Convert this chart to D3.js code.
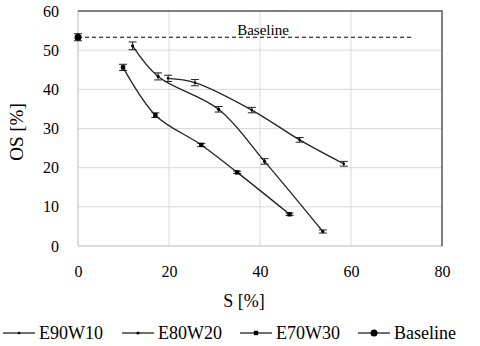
<!DOCTYPE html>
<html>
<head>
<meta charset="utf-8">
<script src="https://cdn.jsdelivr.net/npm/d3@7"></script>
<style>
  body { margin: 0; background: #fff; }
  svg text { font-family: "Liberation Serif", Tinos, "Times New Roman", Times, "DejaVu Serif", "Noto Serif", serif !important; fill: #000; }
</style>
</head>
<body>
<div class="svg-container"></div>
<script>
// data
var seriesNames = ['E90W10', 'E80W20', 'E70W30'];
var e90w10_s  = [19.8, 25.7, 38.2, 48.7, 58.4];
var e90w10_os = [42.8, 41.7, 34.7, 27.1, 21.0];
var e90w10_er = [0.8, 0.8, 0.7, 0.6, 0.6];
var e80w20_s  = [12.0, 17.6, 30.9, 41.0, 53.8];
var e80w20_os = [51.1, 43.3, 34.9, 21.6, 3.7];
var e80w20_er = [1.0, 0.9, 0.7, 0.7, 0.4];
var e70w30_s  = [9.9, 17.0, 27.1, 35.0, 46.5];
var e70w30_os = [45.6, 33.4, 25.8, 18.8, 8.1];
var e70w30_er = [0.8, 0.6, 0.4, 0.3, 0.3];
var baseline_s = 0, baseline_os = 53.3, baseline_er = 0.9;
var baselineEnd = 73.5;
var xTicks = [0, 20, 40, 60, 80];
var yTicks = [0, 10, 20, 30, 40, 50, 60];

var width = 480, height = 346;
var margin = {left: 78, right: 38, top: 11, bottom: 100};
var serif = '"Liberation Serif", Tinos, "Times New Roman", Times, "DejaVu Serif", serif';

var svg = d3.select('.svg-container').append('svg')
    .attr('width', width).attr('height', height)
    .attr('font-family', serif);

var x = d3.scaleLinear().domain([0, 80]).range([margin.left, width - margin.right]);
var y = d3.scaleLinear().domain([0, 60]).range([height - margin.bottom, margin.top]);

//grid
svg.append('g').selectAll('line').data(yTicks.slice(1, -1)).enter().append('line')
    .attr('x1', x(0)).attr('x2', x(80))
    .attr('y1', function(d){ return y(d); }).attr('y2', function(d){ return y(d); })
    .attr('stroke', '#d9d9d9').attr('stroke-width', 1);
svg.append('g').selectAll('line').data(xTicks.slice(1, -1)).enter().append('line')
    .attr('y1', y(0)).attr('y2', y(60))
    .attr('x1', function(d){ return x(d); }).attr('x2', function(d){ return x(d); })
    .attr('stroke', '#d9d9d9').attr('stroke-width', 1);

// left & bottom axis lines (light), top & right border (dark)
svg.append('line').attr('x1', x(0)).attr('x2', x(80)).attr('y1', y(0)).attr('y2', y(0))
    .attr('stroke', '#d0d0d0').attr('stroke-width', 1.5);
svg.append('line').attr('x1', x(0)).attr('x2', x(0)).attr('y1', y(0)).attr('y2', y(60))
    .attr('stroke', '#d0d0d0').attr('stroke-width', 1.5);
svg.append('path')
    .attr('d', 'M' + x(0) + ',' + y(60) + 'H' + x(80) + 'V' + y(0))
    .attr('fill', 'none').attr('stroke', '#555').attr('stroke-width', 1.5);

// tick labels
var xAxis = d3.axisBottom(x).tickValues(xTicks).tickSize(0).tickPadding(20);
var yAxis = d3.axisLeft(y).tickValues(yTicks).tickSize(0).tickPadding(19);
var gx = svg.append('g').attr('transform', 'translate(0,' + y(0) + ')').call(xAxis);
var gy = svg.append('g').attr('transform', 'translate(' + x(0) + ',0)').call(yAxis);
[gx, gy].forEach(function(g){
  g.attr('font-family', serif).attr('font-size', 16);
  g.select('.domain').remove();
  g.selectAll('text').attr('fill', '#000');
});

// axis titles
svg.append('text').attr('x', 244).attr('y', 307).attr('text-anchor', 'middle')
    .attr('font-size', 18).text('S [%]');
svg.append('text').attr('transform', 'translate(23,132) rotate(-90)').attr('text-anchor', 'middle')
    .attr('font-size', 19).text('OS [%]');

// baseline dashed
svg.append('line').attr('x1', x(baseline_s)).attr('x2', x(baselineEnd))
    .attr('y1', y(baseline_os)).attr('y2', y(baseline_os))
    .attr('stroke', '#000').attr('stroke-width', 1).attr('stroke-dasharray', '4,3');
svg.append('text').attr('x', 263).attr('y', 35).attr('text-anchor', 'middle')
    .attr('font-size', 15).text('Baseline');

function pack(s, os, er){
  return s.map(function(v, i){ return {s: v, os: os[i], er: er[i]}; });
}
var series = [
  {name: 'E90W10', pts: pack(e90w10_s, e90w10_os, e90w10_er), r: 1.3},
  {name: 'E80W20', pts: pack(e80w20_s, e80w20_os, e80w20_er), r: 1.6},
  {name: 'E70W30', pts: pack(e70w30_s, e70w30_os, e70w30_er), r: 2.2}
];

var line = d3.line()
    .x(function(d){ return x(d.s); })
    .y(function(d){ return y(d.os); })
    .curve(d3.curveCatmullRom.alpha(0.5));

series.forEach(function(ser){
  svg.append('path').datum(ser.pts).attr('d', line)
      .attr('fill', 'none').attr('stroke', '#222').attr('stroke-width', 1.3);
  drawPoints(ser.pts, ser.r);
});
drawPoints([{s: baseline_s, os: baseline_os, er: baseline_er}], 3.5);

function drawPoints(pts, r){
  var g = svg.append('g');
  pts.forEach(function(d){
    var cx = x(d.s), y1 = y(d.os + d.er), y2 = y(d.os - d.er);
    g.append('path')
        .attr('d', 'M' + cx + ',' + y1 + 'V' + y2 + 'M' + (cx - 4) + ',' + y1 + 'H' + (cx + 4) + 'M' + (cx - 4) + ',' + y2 + 'H' + (cx + 4))
        .attr('stroke', '#222').attr('stroke-width', 1).attr('fill', 'none');
    if (r > 2 && r < 3) {
      g.append('rect').attr('x', cx - r).attr('y', y(d.os) - r).attr('width', 2 * r).attr('height', 2 * r).attr('fill', '#000');
    } else {
      g.append('circle').attr('cx', cx).attr('cy', y(d.os)).attr('r', r).attr('fill', '#000');
    }
  });
}

// legend
var legendItems = [
  {name: 'E90W10', x: 3, r: 1.3},
  {name: 'E80W20', x: 122, r: 1.6},
  {name: 'E70W30', x: 240, r: 2.2},
  {name: 'Baseline', x: 358, r: 3.5}
];
var lg = svg.append('g').attr('transform', 'translate(0,333)');
legendItems.forEach(function(d){
  lg.append('line').attr('x1', d.x).attr('x2', d.x + 32).attr('y1', 0).attr('y2', 0)
      .attr('stroke', '#222').attr('stroke-width', 1.3);
  if (d.r > 2 && d.r < 3) {
    lg.append('rect').attr('x', d.x + 16 - d.r).attr('y', -d.r).attr('width', 2 * d.r).attr('height', 2 * d.r).attr('fill', '#000');
  } else {
    lg.append('circle').attr('cx', d.x + 16).attr('cy', 0).attr('r', d.r).attr('fill', '#000');
  }
  lg.append('text').attr('x', d.x + 36).attr('y', 6).attr('font-size', 18).text(d.name);
});
</script>
</body>
</html>
